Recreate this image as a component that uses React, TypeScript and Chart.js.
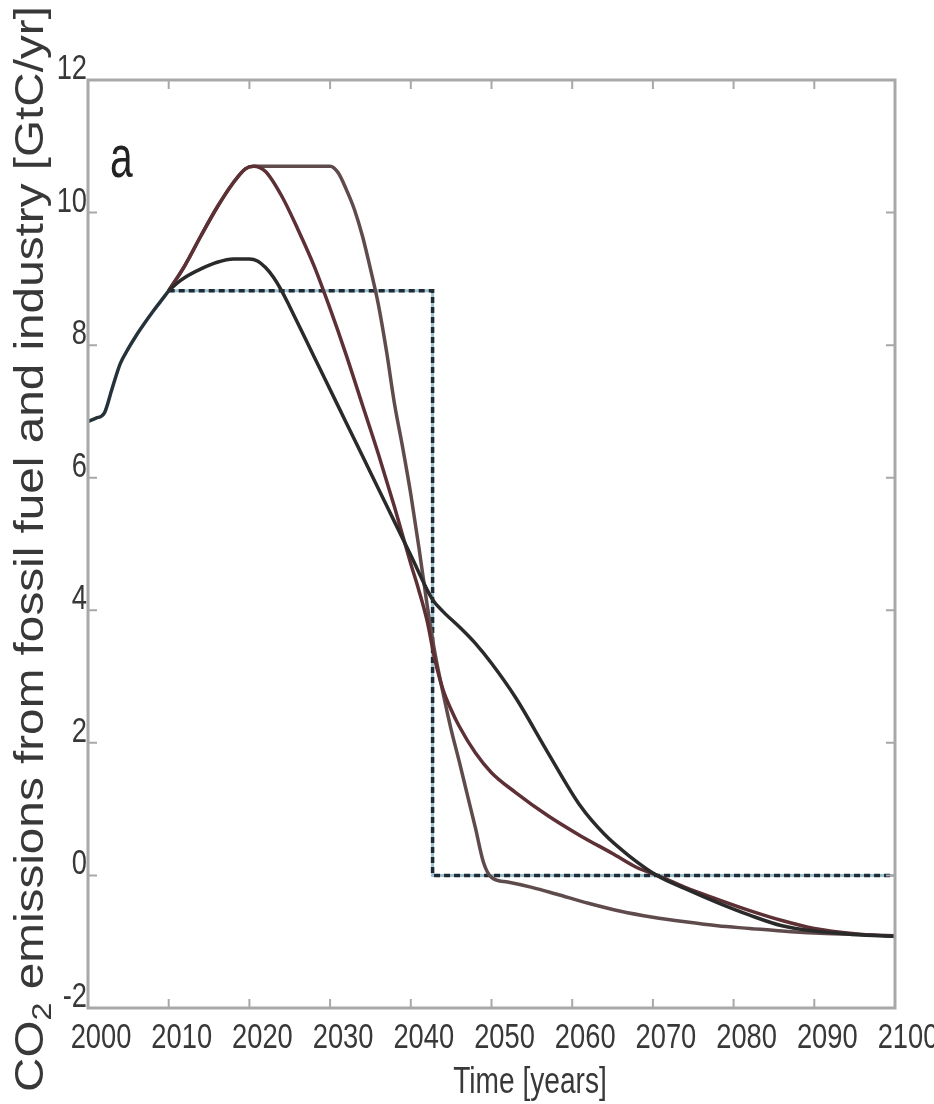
import React, { useEffect, useRef } from "react";
import { Chart, registerables } from "chart.js";

Chart.register(...registerables);

// ---- axis ticks ----
const xTickValues = [2000, 2010, 2020, 2030, 2040, 2050, 2060, 2070, 2080, 2090, 2100];
const yTickValues = [-2, 0, 2, 4, 6, 8, 10, 12];

// ---- historical emissions (shared by all scenarios) ----
const historyYears = [2000, 2001, 2002, 2003, 2004, 2005, 2006, 2007, 2008, 2009, 2010];
const historyValues = [6.85, 6.9, 6.97, 7.35, 7.72, 7.95, 8.15, 8.33, 8.5, 8.66, 8.82];

// ---- dashed step scenario ----
const stepYears = [2010, 2042.7, 2042.7, 2100];
const stepValues = [8.82, 8.82, 0, 0];

// ---- black scenario, low peak ----
const lowPeakYears = [2010, 2011, 2012, 2014, 2016, 2018, 2020, 2021, 2022, 2023, 2024, 2025, 2028, 2031, 2034, 2037, 2040, 2042.7, 2044, 2046, 2048, 2050, 2053, 2057, 2061, 2064, 2067, 2070.5, 2074, 2078, 2082, 2086, 2090, 2095, 2100];
const lowPeakValues = [8.82, 8.93, 9.02, 9.15, 9.25, 9.3, 9.3, 9.27, 9.17, 9.02, 8.82, 8.58, 7.83, 7.08, 6.33, 5.58, 4.83, 4.16, 3.98, 3.75, 3.5, 3.2, 2.68, 1.85, 1.05, 0.62, 0.3, 0.0, -0.2, -0.41, -0.6, -0.76, -0.84, -0.89, -0.92];

// ---- red scenario, peak 2020 then decline ----
const earlyDropYears = [2010, 2012, 2014, 2016, 2018, 2019.5, 2020.5, 2022, 2024, 2026, 2028, 2030, 2032, 2034, 2036, 2038, 2040, 2041, 2042, 2043, 2044, 2045, 2046, 2048, 2050, 2053, 2057, 2061, 2065, 2068, 2071, 2074, 2078, 2082, 2086, 2090, 2095, 2100];
const earlyDropValues = [8.82, 9.2, 9.65, 10.08, 10.45, 10.66, 10.7, 10.62, 10.25, 9.75, 9.2, 8.55, 7.85, 7.1, 6.35, 5.55, 4.7, 4.3, 3.85, 3.25, 2.8, 2.5, 2.25, 1.85, 1.55, 1.25, 0.9, 0.6, 0.33, 0.12, -0.02, -0.18, -0.36, -0.53, -0.68, -0.8, -0.88, -0.92];

// ---- brown scenario, plateau to 2030 then steep decline ----
const latePlateauYears = [2010, 2012, 2014, 2016, 2018, 2019.5, 2020.5, 2030, 2031, 2032, 2033, 2034, 2035, 2036, 2037, 2038, 2039, 2040, 2041, 2042, 2043, 2044, 2045, 2046, 2047, 2048, 2049, 2050, 2052, 2055, 2058, 2062, 2066, 2070, 2074, 2078, 2082, 2086, 2090, 2095, 2100];
const latePlateauValues = [8.82, 9.2, 9.65, 10.08, 10.45, 10.66, 10.7, 10.7, 10.6, 10.35, 10.05, 9.65, 9.15, 8.6, 7.9, 7.1, 6.45, 5.75, 4.95, 4.1, 3.35, 2.75, 2.2, 1.72, 1.22, 0.72, 0.2, -0.03, -0.1, -0.18, -0.28, -0.42, -0.54, -0.63, -0.7, -0.76, -0.8, -0.84, -0.87, -0.89, -0.91];

const REGULAR = "'Liberation Sans', Arial, sans-serif";
const TEXT_COLOR = "#383838";

const pts = (xs: number[], ys: number[]) => xs.map((x, i) => ({ x, y: ys[i] }));

// draws text horizontally compressed (the reference uses a narrow face)
function narrowText(ctx: CanvasRenderingContext2D, text: string, x: number, y: number, size: number, squeeze: number, align: "left" | "center" | "right") {
  ctx.save();
  ctx.font = `${size}px ${REGULAR}`;
  const w = ctx.measureText(text).width * squeeze;
  let left = x;
  if (align === "center") left = x - w / 2;
  if (align === "right") left = x - w;
  ctx.translate(left, y);
  ctx.scale(squeeze, 1);
  ctx.textAlign = "left";
  ctx.textBaseline = "alphabetic";
  ctx.fillText(text, 0, 0);
  ctx.restore();
}

const framePlugin = {
  id: "frame",
  afterDatasetsDraw(chart: any) {
    const { ctx, chartArea: a, scales } = chart;
    const xs = scales.x;
    const ys = scales.y;
    ctx.save();
    ctx.strokeStyle = "#a8a8a8";
    ctx.lineWidth = 2;
    const tl = 9;
    ctx.beginPath();
    for (const v of xTickValues) {
      const px = xs.getPixelForValue(v);
      ctx.moveTo(px, a.top);
      ctx.lineTo(px, a.top + tl);
      ctx.moveTo(px, a.bottom);
      ctx.lineTo(px, a.bottom - tl);
    }
    for (const v of yTickValues) {
      const py = ys.getPixelForValue(v);
      ctx.moveTo(a.left, py);
      ctx.lineTo(a.left + tl, py);
      ctx.moveTo(a.right, py);
      ctx.lineTo(a.right - tl, py);
    }
    ctx.stroke();
    ctx.lineWidth = 3;
    ctx.strokeRect(a.left, a.top, a.right - a.left, a.bottom - a.top);
    ctx.restore();
  },
};

const textPlugin = {
  id: "texts",
  afterDraw(chart: any) {
    const ctx = chart.ctx;
    const { chartArea: a, scales } = chart;
    ctx.save();
    ctx.fillStyle = TEXT_COLOR;

    // tick labels, positioned from the library's scales
    for (const t of scales.x.ticks) {
      const px = scales.x.getPixelForValue(t.value);
      narrowText(ctx, String(t.value), px + 13, a.bottom + 40, 35, 0.78, "center");
    }
    for (const t of scales.y.ticks) {
      const py = scales.y.getPixelForValue(t.value);
      narrowText(ctx, String(t.value), a.left - 1, py - 1, 35, 0.78, "right");
    }

    // rotated y-axis title with subscript
    const size = 40;
    const subSize = 27;
    const p1 = "CO";
    const p2 = "2";
    const p3 = " emissions from fossil fuel and industry [GtC/yr]";
    ctx.font = `${size}px ${REGULAR}`;
    const w1 = ctx.measureText(p1).width;
    const w3 = ctx.measureText(p3).width;
    ctx.font = `${subSize}px ${REGULAR}`;
    const w2 = ctx.measureText(p2).width;
    const total = w1 + w2 + w3;
    const startY = 1092;
    const endY = 6;
    const sx = (startY - endY) / total;
    ctx.save();
    ctx.translate(43, startY);
    ctx.rotate(-Math.PI / 2);
    ctx.scale(sx, 1);
    ctx.textAlign = "left";
    ctx.textBaseline = "alphabetic";
    ctx.font = `${size}px ${REGULAR}`;
    ctx.fillText(p1, 0, 0);
    ctx.font = `${subSize}px ${REGULAR}`;
    ctx.fillText(p2, w1, 8);
    ctx.font = `${size}px ${REGULAR}`;
    ctx.fillText(p3, w1 + w2, 0);
    ctx.restore();

    // x-axis title
    narrowText(ctx, "Time [years]", 530, 1093, 37, 0.76, "center");

    // panel letter
    ctx.fillStyle = "#222222";
    narrowText(ctx, "a", 110, 177, 60, 0.68, "left");
    ctx.restore();
  },
};

export default function App() {
  const canvasRef = useRef<HTMLCanvasElement | null>(null);

  useEffect(() => {
    const canvas = canvasRef.current;
    if (!canvas) return;
    const chart = new Chart(canvas, {
      type: "line",
      data: {
        datasets: [
          {
            label: "history",
            data: pts(historyYears, historyValues),
            borderColor: "#25323a",
            borderWidth: 3.5,
            pointRadius: 0,
            cubicInterpolationMode: "monotone",
            order: 1,
          },
          {
            label: "low peak",
            data: pts(lowPeakYears, lowPeakValues),
            borderColor: "#2a2a2a",
            borderWidth: 3.5,
            pointRadius: 0,
            cubicInterpolationMode: "monotone",
            order: 2,
          },
          {
            label: "early drop",
            data: pts(earlyDropYears, earlyDropValues),
            borderColor: "#5c3035",
            borderWidth: 3.5,
            pointRadius: 0,
            cubicInterpolationMode: "monotone",
            order: 3,
          },
          {
            label: "late plateau",
            data: pts(latePlateauYears, latePlateauValues),
            borderColor: "#5f4b4b",
            borderWidth: 3.5,
            pointRadius: 0,
            cubicInterpolationMode: "monotone",
            order: 4,
          },
          {
            label: "step dashed",
            data: pts(stepYears, stepValues),
            borderColor: "#1f2a33",
            borderWidth: 3.5,
            borderDash: [6, 4],
            pointRadius: 0,
            tension: 0,
            order: 5,
          },
          {
            label: "step base",
            data: pts(stepYears, stepValues),
            borderColor: "#9cc3d2",
            borderWidth: 3,
            pointRadius: 0,
            tension: 0,
            order: 6,
          },
        ],
      },
      options: {
        animation: false,
        responsive: false,
        maintainAspectRatio: false,
        layout: { padding: { left: 0, right: 39, top: 80, bottom: 0 } },
        plugins: {
          legend: { display: false },
          tooltip: { enabled: false },
          title: { display: false },
        },
        scales: {
          x: {
            type: "linear",
            min: 2000,
            max: 2100,
            grid: { display: false, drawTicks: false },
            border: { display: false },
            afterBuildTicks: (scale: any) => {
              scale.ticks = xTickValues.map((v) => ({ value: v }));
            },
            afterFit: (scale: any) => {
              scale.height = 96;
              scale.paddingLeft = 0;
              scale.paddingRight = 0;
            },
            ticks: { display: false, autoSkip: false },
          },
          y: {
            type: "linear",
            min: -2,
            max: 12,
            grid: { display: false, drawTicks: false },
            border: { display: false },
            afterBuildTicks: (scale: any) => {
              scale.ticks = yTickValues.map((v) => ({ value: v }));
            },
            afterFit: (scale: any) => {
              scale.width = 88;
              scale.paddingTop = 0;
              scale.paddingBottom = 0;
            },
            ticks: { display: false, autoSkip: false },
          },
        },
      },
      plugins: [framePlugin, textPlugin],
    });
    return () => chart.destroy();
  }, []);

  return (
    <div style={{ position: "absolute", left: 0, top: 0, width: 934, height: 1104, background: "#ffffff" }}>
      <canvas ref={canvasRef} width={934} height={1104} style={{ width: 934, height: 1104, display: "block" }} />
    </div>
  );
}
